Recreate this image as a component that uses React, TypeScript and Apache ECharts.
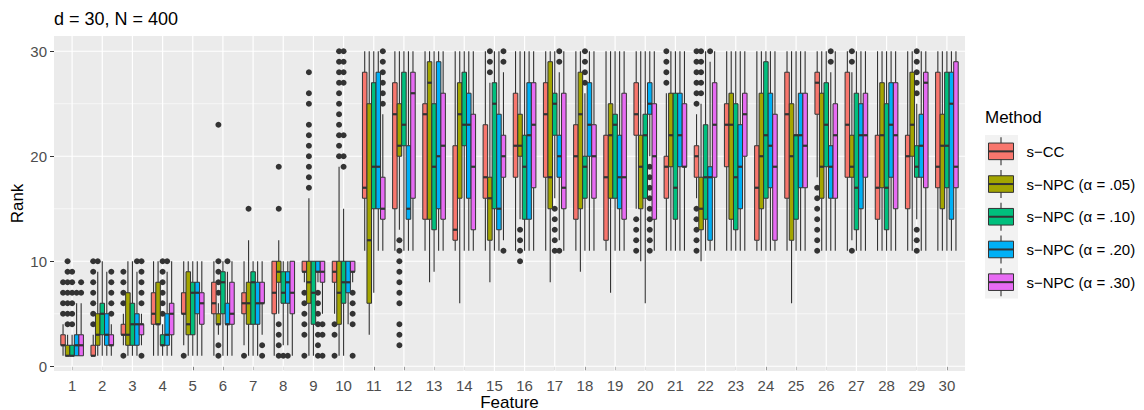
import React, { useEffect, useRef } from "react";
import * as echarts from "echarts";

// ---------- data ----------
const features = [1, 2, 3, 4, 5, 6, 7, 8, 9, 10, 11, 12, 13, 14, 15, 16, 17, 18, 19, 20, 21, 22, 23, 24, 25, 26, 27, 28, 29, 30];
const yBreaks = [0, 10, 20, 30];
const yMinorBreaks = [5, 15, 25];
const methods = ["s\u2212CC", "s\u2212NPC (\u03b1 = .05)", "s\u2212NPC (\u03b1 = .10)", "s\u2212NPC (\u03b1 = .20)", "s\u2212NPC (\u03b1 = .30)"];
const methodColors = ["#F8766D", "#A3A500", "#00BF7D", "#00B0F6", "#E76BF3"];

// [lower whisker, Q1, median, Q3, upper whisker] for features 1..30
const statsCC = [
  [1, 2, 2, 3, 4], [1, 1, 1, 2, 3], [2, 3, 3, 4, 5], [1, 4, 5, 7, 10], [2, 5, 5, 7, 10],
  [1, 5, 6, 8, 10], [2, 5, 6, 7, 10], [1, 5, 7, 10, 10], [8, 9, 9, 10, 10], [5, 8, 9, 10, 10],
  [11, 16, 17, 28, 30], [11, 15, 24, 27, 30], [11, 14, 24, 25, 30], [11, 12, 13, 21, 30], [11, 16, 18, 23, 30],
  [11, 18, 21, 26, 30], [11, 18, 24, 27, 30], [11, 14, 20, 23, 30], [11, 12, 18, 22, 30], [15, 22, 24, 27, 30],
  [11, 16, 19, 20, 26], [16, 18, 20, 21, 24], [11, 19, 23, 25, 30], [11, 12, 17, 21, 30], [11, 16, 24, 28, 30],
  [18, 24, 27, 28, 30], [11, 18, 23, 28, 30], [11, 14, 17, 22, 30], [11, 15, 20, 22, 30], [11, 17, 19, 28, 30],
];
const statsNPC05 = [
  [1, 1, 1, 2, 3], [1, 2, 3, 5, 9], [1, 2, 3, 7, 10], [1, 4, 4, 8, 10], [1, 3, 4, 9, 10],
  [3, 4, 4, 5, 6], [1, 4, 6, 8, 12], [5, 8, 9, 10, 12], [1, 6, 8, 10, 16], [1, 4, 7, 10, 19],
  [3, 6, 12, 25, 30], [13, 20, 21, 25, 30], [8, 14, 27, 29, 30], [6, 16, 24, 27, 30], [8, 12, 16, 18, 27],
  [14, 20, 21, 24, 30], [8, 15, 18, 29, 30], [9, 15, 24, 28, 30], [7, 16, 22, 25, 30], [10, 15, 19, 22, 30],
  [11, 19, 22, 26, 30], [10, 13, 15, 18, 25], [11, 14, 23, 26, 30], [11, 15, 20, 26, 30], [6, 12, 20, 25, 30],
  [11, 16, 19, 26, 30], [12, 18, 19, 22, 28], [11, 17, 22, 27, 30], [11, 20, 23, 28, 30], [11, 15, 21, 24, 30],
];
const statsNPC10 = [
  [1, 1, 1, 2, 3], [1, 3, 5, 6, 10], [1, 2, 4, 6, 10], [1, 2, 2, 3, 4], [1, 3, 7, 8, 10],
  [1, 5, 8, 9, 10], [1, 4, 8, 9, 10], [2, 6, 7, 9, 10], [1, 4, 7, 10, 10], [1, 6, 8, 10, 15],
  [7, 15, 19, 27, 30], [11, 21, 23, 28, 30], [9, 13, 19, 25, 30], [11, 21, 23, 28, 30], [11, 15, 25, 27, 30],
  [11, 14, 19, 22, 30], [16, 22, 25, 26, 30], [11, 16, 19, 20, 26], [11, 16, 23, 24, 30], [6, 16, 22, 24, 30],
  [11, 14, 17, 26, 30], [11, 14, 18, 23, 30], [11, 13, 18, 25, 30], [11, 16, 22, 29, 30], [11, 14, 22, 22, 30],
  [11, 19, 23, 27, 30], [11, 13, 17, 26, 30], [11, 13, 17, 25, 30], [14, 18, 19, 21, 25], [11, 17, 21, 28, 30],
];
const statsNPC20 = [
  [1, 1, 2, 3, 6], [1, 2, 3, 5, 9], [1, 2, 4, 5, 9], [1, 2, 3, 5, 9], [1, 5, 7, 8, 10],
  [1, 4, 4, 6, 9], [1, 4, 6, 8, 10], [2, 6, 8, 9, 10], [8, 9, 9, 10, 10], [4, 7, 8, 10, 10],
  [11, 15, 19, 28, 30], [11, 14, 15, 21, 30], [11, 15, 20, 29, 30], [11, 16, 23, 26, 30], [11, 13, 15, 24, 30],
  [11, 14, 22, 27, 30], [12, 18, 20, 22, 28], [11, 20, 23, 27, 30], [11, 15, 18, 22, 30], [20, 24, 25, 27, 30],
  [11, 19, 22, 26, 30], [11, 12, 18, 19, 29], [11, 15, 19, 23, 30], [11, 17, 21, 26, 30], [11, 17, 22, 26, 30],
  [11, 16, 19, 21, 28], [11, 15, 22, 25, 30], [11, 18, 23, 27, 30], [11, 18, 21, 24, 30], [11, 14, 25, 28, 30],
];
const statsNPC30 = [
  [1, 1, 2, 3, 6], [1, 2, 2, 3, 4], [2, 3, 4, 4, 5], [1, 3, 5, 6, 10], [1, 4, 6, 7, 10],
  [1, 4, 5, 8, 10], [3, 6, 6, 8, 10], [1, 5, 7, 10, 10], [5, 8, 9, 10, 10], [8, 9, 9, 10, 10],
  [11, 14, 15, 18, 24], [11, 16, 26, 28, 30], [11, 14, 21, 26, 30], [11, 13, 19, 24, 30], [12, 18, 20, 22, 28],
  [11, 17, 23, 27, 30], [11, 15, 17, 26, 30], [11, 16, 20, 23, 30], [11, 14, 18, 26, 30], [11, 14, 20, 25, 30],
  [11, 19, 19, 25, 30], [11, 18, 23, 27, 30], [11, 20, 24, 26, 30], [11, 12, 19, 24, 30], [11, 17, 21, 26, 30],
  [11, 16, 22, 25, 30], [11, 18, 22, 26, 30], [11, 15, 22, 27, 30], [11, 17, 27, 28, 30], [11, 17, 19, 29, 30],
];

// outliers: [feature, [values]]
const outCC: [number, number[]][] = [
  [1, [5, 6, 7, 8]], [2, [4, 5, 6, 7, 8, 9, 10]], [3, [1, 6, 7, 8, 9]], [5, [1]], [7, [1]],
  [9, [1, 3, 4, 5, 6, 7]], [10, [1, 3, 4]], [20, [11, 12, 13, 14]], [21, [27, 28, 29, 30]],
  [22, [11, 12, 13, 14, 15, 25, 26, 27, 28, 29, 30]], [26, [11, 12, 13, 14, 15, 16, 17]],
];
const outNPC05: [number, number[]][] = [
  [1, [4, 5, 6, 7, 8, 9, 10]], [2, [10]], [6, [1, 2, 7, 8, 9, 10, 23]], [7, [15]], [8, [1, 2, 3, 4, 15, 19]],
  [9, [17, 18, 19, 20, 21, 22, 23, 25, 26, 28]], [10, [20, 21, 22, 23, 24, 25, 26, 27, 28, 29, 30]],
  [12, [2, 3, 4, 6, 7, 8, 9, 10, 11, 12]], [15, [28, 29, 30]], [16, [10, 11, 12, 13]],
  [22, [26, 27, 28, 29, 30]], [27, [11, 29, 30]],
];
const outNPC10: [number, number[]][] = [
  [1, [4, 5, 6, 7, 8, 9]], [4, [5, 6, 7, 8, 9, 10]], [8, [1]], [10, [19, 20, 22, 27, 28, 29, 30]],
  [17, [11, 12, 13, 14, 15]], [18, [27, 28, 29, 30]], [29, [11, 12, 13, 26, 27, 28, 29, 30]],
];
const outNPC20: [number, number[]][] = [
  [1, [7]], [3, [10]], [4, [10]], [6, [10]], [8, [1]], [9, [1, 2, 3, 4, 5, 6, 7]],
  [17, [11, 29, 30]], [20, [11, 12, 13, 14, 15, 16, 17, 18, 19]], [22, [30]], [26, [29, 30]],
];
const outNPC30: [number, number[]][] = [
  [1, [7, 8]], [2, [5, 6, 7, 8, 9]], [3, [1, 6, 7, 8, 9, 10]], [7, [1, 2]], [9, [1, 3, 4]],
  [10, [1, 4, 5, 6, 7]], [11, [25, 26, 27, 28, 29, 30]], [15, [11, 29, 30]],
];

const allStats = [statsCC, statsNPC05, statsNPC10, statsNPC20, statsNPC30];
const allOut = [outCC, outNPC05, outNPC10, outNPC20, outNPC30];

// ---------- layout / style ----------
const FONT = "'Liberation Sans', Arial, Helvetica, sans-serif";
const X_MIN = 0.4, X_MAX = 30.6, Y_MIN = -0.45, Y_MAX = 31.45;
const DODGE = 0.15, HALF = 0.075;
const LINE = "#333333";
const offsetOf = (m: number) => (m - 2) * DODGE;

function boxRenderer(mi: number, color: string) {
  return (params: any, api: any) => {
    const xc = api.value(0) + offsetOf(mi);
    const lo = api.value(1), q1 = api.value(2), med = api.value(3), q3 = api.value(4), hi = api.value(5);
    const tl = api.coord([xc - HALF, q3]);
    const br = api.coord([xc + HALF, q1]);
    const cx = api.coord([xc, med]);
    const pLo = api.coord([xc, lo]);
    const pHi = api.coord([xc, hi]);
    return {
      type: "group",
      children: [
        { type: "line", shape: { x1: cx[0], y1: pHi[1], x2: cx[0], y2: tl[1] }, style: { stroke: LINE, lineWidth: 1.1 } },
        { type: "line", shape: { x1: cx[0], y1: br[1], x2: cx[0], y2: pLo[1] }, style: { stroke: LINE, lineWidth: 1.1 } },
        { type: "rect", shape: { x: tl[0], y: tl[1], width: br[0] - tl[0], height: br[1] - tl[1] }, style: { fill: color, stroke: LINE, lineWidth: 1 } },
        { type: "line", shape: { x1: tl[0], y1: cx[1], x2: br[0], y2: cx[1] }, style: { stroke: LINE, lineWidth: 2.2 } },
      ],
    };
  };
}

function buildOption() {
  const series: any[] = [];
  // vertical grid lines
  series.push({
    type: "custom", silent: true, z: 1,
    data: features.map((f) => [f, 0]),
    encode: { x: 0, y: 1 },
    renderItem: (params: any, api: any) => {
      const p = api.coord([api.value(0), 0]);
      const cs = params.coordSys;
      return { type: "line", shape: { x1: p[0], y1: cs.y, x2: p[0], y2: cs.y + cs.height }, style: { stroke: "#FFFFFF", lineWidth: 1.2 } };
    },
  });
  // horizontal grid lines (major and minor)
  const hData = yBreaks.map((v) => [1, v, 1]).concat(yMinorBreaks.map((v) => [1, v, 0]));
  series.push({
    type: "custom", silent: true, z: 1,
    data: hData,
    encode: { x: 0, y: 1 },
    renderItem: (params: any, api: any) => {
      const p = api.coord([1, api.value(1)]);
      const cs = params.coordSys;
      const major = api.value(2) === 1;
      return { type: "line", shape: { x1: cs.x, y1: p[1], x2: cs.x + cs.width, y2: p[1] }, style: { stroke: "#FFFFFF", lineWidth: major ? 1.2 : 0.6 } };
    },
  });
  methods.forEach((name, mi) => {
    const outData: number[][] = [];
    allOut[mi].forEach(([f, vals]) => vals.forEach((v) => outData.push([f + offsetOf(mi), v])));
    series.push({
      name: name + " outliers", type: "scatter", z: 2, silent: true,
      symbol: "circle", symbolSize: 6,
      itemStyle: { color: LINE, opacity: 1 },
      data: outData,
    });
    series.push({
      name, type: "custom", z: 3, silent: true,
      data: allStats[mi].map((s, i) => [features[i], ...s]),
      encode: { x: 0, y: [1, 2, 3, 4, 5] },
      renderItem: boxRenderer(mi, methodColors[mi]),
    });
  });

  // legend drawn with graphic elements
  const LEG_X = 985, LEG_TOP = 135, KEY_W = 33, KEY_H = 32.7;
  const graphic: any[] = [
    { type: "text", x: 54, y: 19, style: { text: "d = 30, N = 400", fill: "#000000", fontSize: 18, fontFamily: FONT, textAlign: "left", textVerticalAlign: "middle" } },
    { type: "text", x: 509.5, y: 402, style: { text: "Feature", fill: "#000000", fontSize: 17, fontFamily: FONT, textAlign: "center", textVerticalAlign: "middle" } },
    { type: "text", x: 17, y: 203.5, rotation: Math.PI / 2, style: { text: "Rank", fill: "#000000", fontSize: 17, fontFamily: FONT, textAlign: "center", textVerticalAlign: "middle" } },
    { type: "text", x: LEG_X, y: 117, style: { text: "Method", fill: "#000000", fontSize: 17, fontFamily: FONT, textAlign: "left", textVerticalAlign: "middle" } },
    { type: "rect", shape: { x: LEG_X, y: LEG_TOP, width: KEY_W, height: KEY_H * 5 }, style: { fill: "#F2F2F2" } },
  ];
  methods.forEach((name, i) => {
    const cy = LEG_TOP + KEY_H * (i + 0.5);
    const cx = LEG_X + 16;
    graphic.push(
      { type: "line", shape: { x1: cx, y1: cy - 14, x2: cx, y2: cy + 14 }, style: { stroke: LINE, lineWidth: 1.1 } },
      { type: "rect", shape: { x: LEG_X + 3.5, y: cy - 8.3, width: 25, height: 16.6 }, style: { fill: methodColors[i], stroke: LINE, lineWidth: 1 } },
      { type: "line", shape: { x1: LEG_X + 3.5, y1: cy, x2: LEG_X + 28.5, y2: cy }, style: { stroke: LINE, lineWidth: 2 } },
      { type: "text", x: LEG_X + 41.5, y: cy, style: { text: name, fill: "#000000", fontSize: 15, fontFamily: FONT, textAlign: "left", textVerticalAlign: "middle" } }
    );
  });

  return {
    animation: false,
    backgroundColor: "#FFFFFF",
    textStyle: { fontFamily: FONT },
    grid: { left: 54, right: 179, top: 36, bottom: 39, show: true, backgroundColor: "#EBEBEB", borderWidth: 0 },
    xAxis: {
      type: "value", min: X_MIN, max: X_MAX,
      axisLine: { show: false },
      axisTick: { show: true, length: 4, customValues: features, lineStyle: { color: LINE, width: 1 } },
      axisLabel: { customValues: features, color: "#4D4D4D", fontSize: 15, margin: 7, fontFamily: FONT },
      splitLine: { show: false },
    },
    yAxis: {
      type: "value", min: Y_MIN, max: Y_MAX,
      axisLine: { show: false },
      axisTick: { show: true, length: 4, customValues: yBreaks, lineStyle: { color: LINE, width: 1 } },
      axisLabel: { customValues: yBreaks, color: "#4D4D4D", fontSize: 15, margin: 7, fontFamily: FONT },
      splitLine: { show: false },
    },
    graphic,
    series,
  };
}

export default function App() {
  const ref = useRef<HTMLDivElement>(null);
  useEffect(() => {
    const chart = echarts.init(ref.current as HTMLDivElement, null, { renderer: "svg" });
    chart.setOption(buildOption() as any);
    return () => chart.dispose();
  }, []);
  return <div ref={ref} style={{ position: "absolute", left: 0, top: 0, width: 1144, height: 410 }} />;
}
